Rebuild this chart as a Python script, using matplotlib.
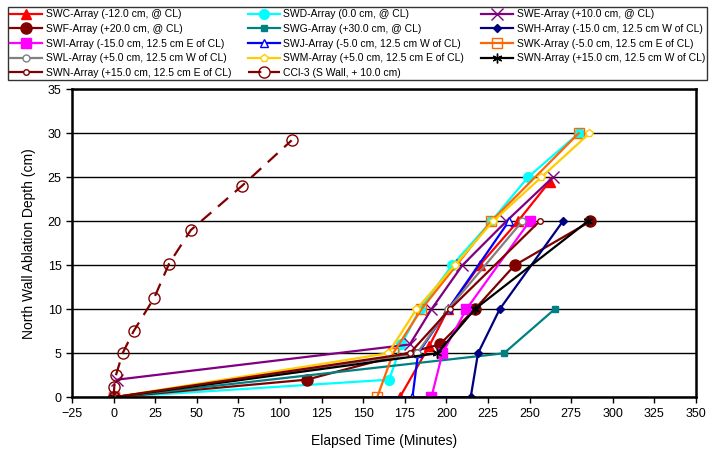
import numpy as np
import matplotlib.pyplot as plt

plt.rcParams['font.family'] = ['Liberation Sans', 'DejaVu Sans']

# elapsed time (min) and ablation depth (cm) per array
swc_x = [0, 172, 189.6, 201, 220, 243, 262]
swc_y = [0, 0, 5.8, 10, 15, 20, 24.5]
swd_x = [0, 165.6, 173, 184, 203.4, 227, 249, 279.5]
swd_y = [0, 2, 6, 10, 15, 20, 25, 30]
swe_x = [2, 178, 191, 209.6, 236, 264]
swe_y = [2, 6, 10, 15, 20, 25]
swf_x = [0, 116, 196, 217, 241, 286.6]
swf_y = [0, 2, 6, 10, 15, 20]
swg_x = [0, 234.6, 265]
swg_y = [0, 5, 10]
swh_x = [0, 214.6, 219, 232, 270]
swh_y = [0, 0, 5, 10, 20]
swi_x = [0, 191, 197.6, 212, 250]
swi_y = [0, 0, 5, 10, 20]
swj_x = [0, 179.6, 183, 201, 237.5]
swj_y = [0, 0, 5, 10, 20]
swk_x = [0, 158.4, 168, 185, 227, 279.5]
swk_y = [0, 0, 5, 10, 20, 30]
swl_x = [0, 182.4, 201, 245.6]
swl_y = [0, 5, 10, 20]
swm_x = [0, 165, 182, 205, 228, 257, 286]
swm_y = [0, 5, 10, 15, 20, 25, 30]
swnw_x = [0, 194.6, 217, 285]
swnw_y = [0, 5, 10, 20]
swne_x = [0, 178, 202, 256]
swne_y = [0, 5, 10, 20]
ccl_x = [0, 0.4, 1.4, 5.4, 12, 24.4, 33.4, 46.4, 77, 107]
ccl_y = [0, 1.2, 2.5, 5, 7.5, 11.3, 15.2, 19, 24, 29.2]

fig = plt.figure(figsize=(7.15, 4.72), dpi=100)
ax = fig.add_axes([0.1007, 0.1583, 0.8727, 0.6525])

lw = 1.6
h = {}
h['swc'], = ax.plot(swc_x, swc_y, '-^', color='#FF0000', lw=lw, ms=7, label='SWC-Array (-12.0 cm, @ CL)')
h['swd'], = ax.plot(swd_x, swd_y, '-o', color='#00FFFF', lw=lw, ms=7, label='SWD-Array (0.0 cm, @ CL)')
h['swe'], = ax.plot(swe_x, swe_y, '-x', color='#800080', lw=lw, ms=8, mew=1, label='SWE-Array (+10.0 cm, @ CL)')
h['swf'], = ax.plot(swf_x, swf_y, '-o', color='#800000', lw=lw, ms=8, label='SWF-Array (+20.0 cm, @ CL)')
h['swg'], = ax.plot(swg_x, swg_y, '-s', color='#008080', lw=lw, ms=5, label='SWG-Array (+30.0 cm, @ CL)')
h['swh'], = ax.plot(swh_x, swh_y, '-D', color='#000080', lw=lw, ms=4.5, label='SWH-Array (-15.0 cm, 12.5 cm W of CL)')
h['swi'], = ax.plot(swi_x, swi_y, '-s', color='#FF00FF', lw=lw, ms=7, label='SWI-Array (-15.0 cm, 12.5 cm E of CL)')
h['swj'], = ax.plot(swj_x, swj_y, '-^', color='#0000FF', mfc='white', lw=lw, ms=6, mew=1, label='SWJ-Array (-5.0 cm, 12.5 cm W of CL)')
h['swk'], = ax.plot(swk_x, swk_y, '-s', color='#FF6600', mfc='none', lw=lw, ms=7, mew=1, label='SWK-Array (-5.0 cm, 12.5 cm E of CL)')
h['swl'], = ax.plot(swl_x, swl_y, '-o', color='#808080', mfc='white', lw=lw, ms=5, mew=1, label='SWL-Array (+5.0 cm, 12.5 cm W of CL)')
h['swm'], = ax.plot(swm_x, swm_y, '-p', color='#FFCC00', mfc='white', lw=lw, ms=6, mew=1, label='SWM-Array (+5.0 cm, 12.5 cm E of CL)')
h['swnw'], = ax.plot(swnw_x, swnw_y, '-', marker=(6, 2, 0), color='black', lw=lw, ms=7, mew=1, label='SWN-Array (+15.0 cm, 12.5 cm W of CL)')
h['swne'], = ax.plot(swne_x, swne_y, '-o', color='#800000', mfc='white', lw=lw, ms=4, mew=1, label='SWN-Array (+15.0 cm, 12.5 cm E of CL)')
h['ccl'], = ax.plot(ccl_x, ccl_y, '--o', color='#800000', mfc='none', lw=lw, ms=8, mew=1, dashes=(6, 4), label='CCl-3 (S Wall, + 10.0 cm)')

ax.set_xlim(-25, 350)
ax.set_ylim(0, 35)
ax.set_xticks(np.arange(-25, 351, 25))
ax.set_yticks(np.arange(0, 36, 5))
ax.yaxis.grid(True, color='black', lw=1)
ax.set_axisbelow(True)
for s in ax.spines.values():
    s.set_linewidth(1.8)
ax.tick_params(labelsize=9, length=4, width=1, direction='out')
ax.set_xlabel('Elapsed Time (Minutes)', fontsize=10, labelpad=10)
ax.set_ylabel('North Wall Ablation Depth (cm)', fontsize=10, labelpad=8)

order = ['swc', 'swf', 'swi', 'swl', 'swne',
         'swd', 'swg', 'swj', 'swm', 'ccl',
         'swe', 'swh', 'swk', 'swnw']
leg = fig.legend([h[k] for k in order], [h[k].get_label() for k in order],
                 loc='lower left', bbox_to_anchor=(0.0112, 0.8305, 0.9776, 0.1589),
                 mode='expand', ncol=3, fontsize=7.5, frameon=True, fancybox=False,
                 edgecolor='black', borderaxespad=0, handlelength=3.1, handletextpad=0.3,
                 labelspacing=0.45, borderpad=0.2, columnspacing=1.0)
leg.get_frame().set_linewidth(1)

fig.savefig('out.png', dpi=100)
